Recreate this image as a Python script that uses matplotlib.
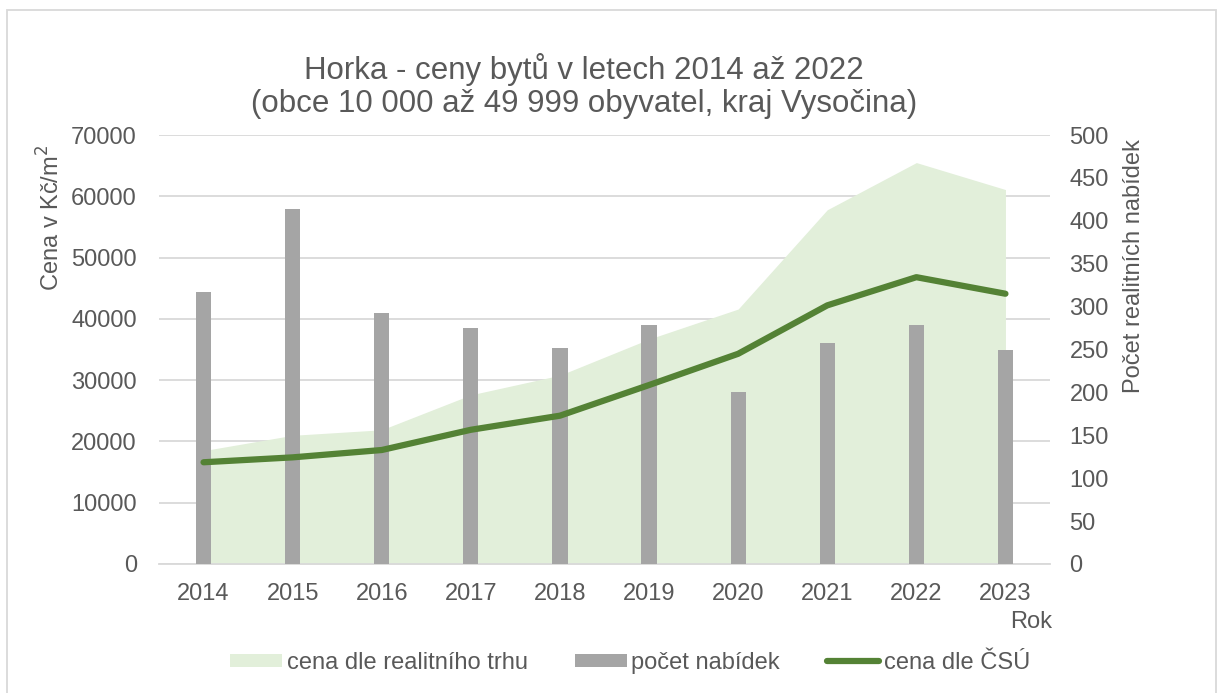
import matplotlib.pyplot as plt
from matplotlib.patches import Patch, Rectangle
from matplotlib.lines import Line2D

plt.rcParams['font.family'] = ['Liberation Sans', 'DejaVu Sans']

years = ['2014', '2015', '2016', '2017', '2018', '2019', '2020', '2021', '2022', '2023']
cena_trh = [18500, 21000, 21900, 27600, 30800, 36700, 41600, 57800, 65500, 61100]
pocet_nabidek = [317, 414, 292, 275, 252, 278, 201, 257, 278, 250]
cena_csu = [16600, 17400, 18600, 21900, 24200, 29200, 34300, 42200, 46800, 44100]

TXT = '#595959'
GRID = '#D9D9D9'

def main():
    fig = plt.figure(figsize=(12.24, 6.93), dpi=100)
    x = list(range(len(years)))

    ax1 = fig.add_axes([159 / 1224, 1 - 564 / 693, (1050 - 159) / 1224, (564 - 135) / 693])
    ax2 = ax1.twinx()
    ax3 = ax1.twinx()

    # area (left axis)
    ax1.fill_between(x, cena_trh, 0, color='#E2EFDA', linewidth=0, zorder=2)
    ax1.set_ylim(0, 70000)
    ax1.set_yticks(range(0, 70001, 10000))
    ax1.set_xlim(-0.5, len(years) - 0.5)
    ax1.set_xticks(x)
    ax1.set_xticklabels(years)
    ax1.grid(axis='y', color=GRID, linewidth=1.3, zorder=0)
    ax1.set_axisbelow(True)

    # bars (right axis)
    ax2.bar(x, pocet_nabidek, width=0.17, color='#A5A5A5', zorder=3)
    ax2.set_ylim(0, 500)
    ax2.set_yticks(range(0, 501, 50))

    # line (left scale, drawn on top)
    ax3.plot(x, cena_csu, color='#548235', linewidth=4.5, solid_capstyle='round', solid_joinstyle='round')
    ax3.set_ylim(0, 70000)
    ax3.axis('off')

    for ax in (ax1, ax2, ax3):
        for s in ax.spines.values():
            s.set_visible(False)
    ax1.spines['bottom'].set_visible(True)
    ax1.spines['bottom'].set_color(GRID)
    ax1.spines['bottom'].set_linewidth(1.3)

    ax1.tick_params(axis='both', length=0, labelsize=17, labelcolor=TXT)
    ax1.tick_params(axis='x', pad=14)
    ax1.tick_params(axis='y', pad=16)
    ax2.tick_params(axis='y', length=0, labelsize=17, labelcolor=TXT, pad=14)

    fig.text(584 / 1224, 1 - 86 / 693, 'Horka - ceny bytů v letech 2014 až 2022\n(obce 10 000 až 49 999 obyvatel, kraj Vysočina)',
             ha='center', va='center', fontsize=22.5, color=TXT, linespacing=1.1)
    fig.text(51 / 1224, 1 - 218 / 693, 'Cena v Kč/m$^2$', rotation=90, ha='center', va='center', fontsize=17, color=TXT)
    fig.text(1134 / 1224, 1 - 266 / 693, 'Počet realitních nabídek', rotation=90, ha='center', va='center', fontsize=17, color=TXT)
    fig.text(1052 / 1224, 1 - 622 / 693, 'Rok', ha='right', va='center', fontsize=17, color=TXT)

    handles = [Patch(facecolor='#E2EFDA', edgecolor='none'),
               Patch(facecolor='#A5A5A5', edgecolor='none'),
               Line2D([], [], color='#548235', linewidth=4.5, solid_capstyle='round')]
    labels = ['cena dle realitního trhu', 'počet nabídek', 'cena dle ČSÚ']
    leg = fig.legend(handles, labels, loc='center', bbox_to_anchor=(630 / 1224, 1 - 663 / 693), ncol=3,
                     frameon=False, fontsize=17, handlelength=2.2, handleheight=0.5, handletextpad=0.2,
                     columnspacing=2.0)
    for t in leg.get_texts():
        t.set_color(TXT)

    fig.patches.append(Rectangle((7 / 1224, -0.01), 1209 / 1224, 1 - 10 / 693 + 0.01, transform=fig.transFigure,
                                 fill=False, edgecolor=GRID, linewidth=1.3))

    fig.savefig('out.png', dpi=100)

main()
